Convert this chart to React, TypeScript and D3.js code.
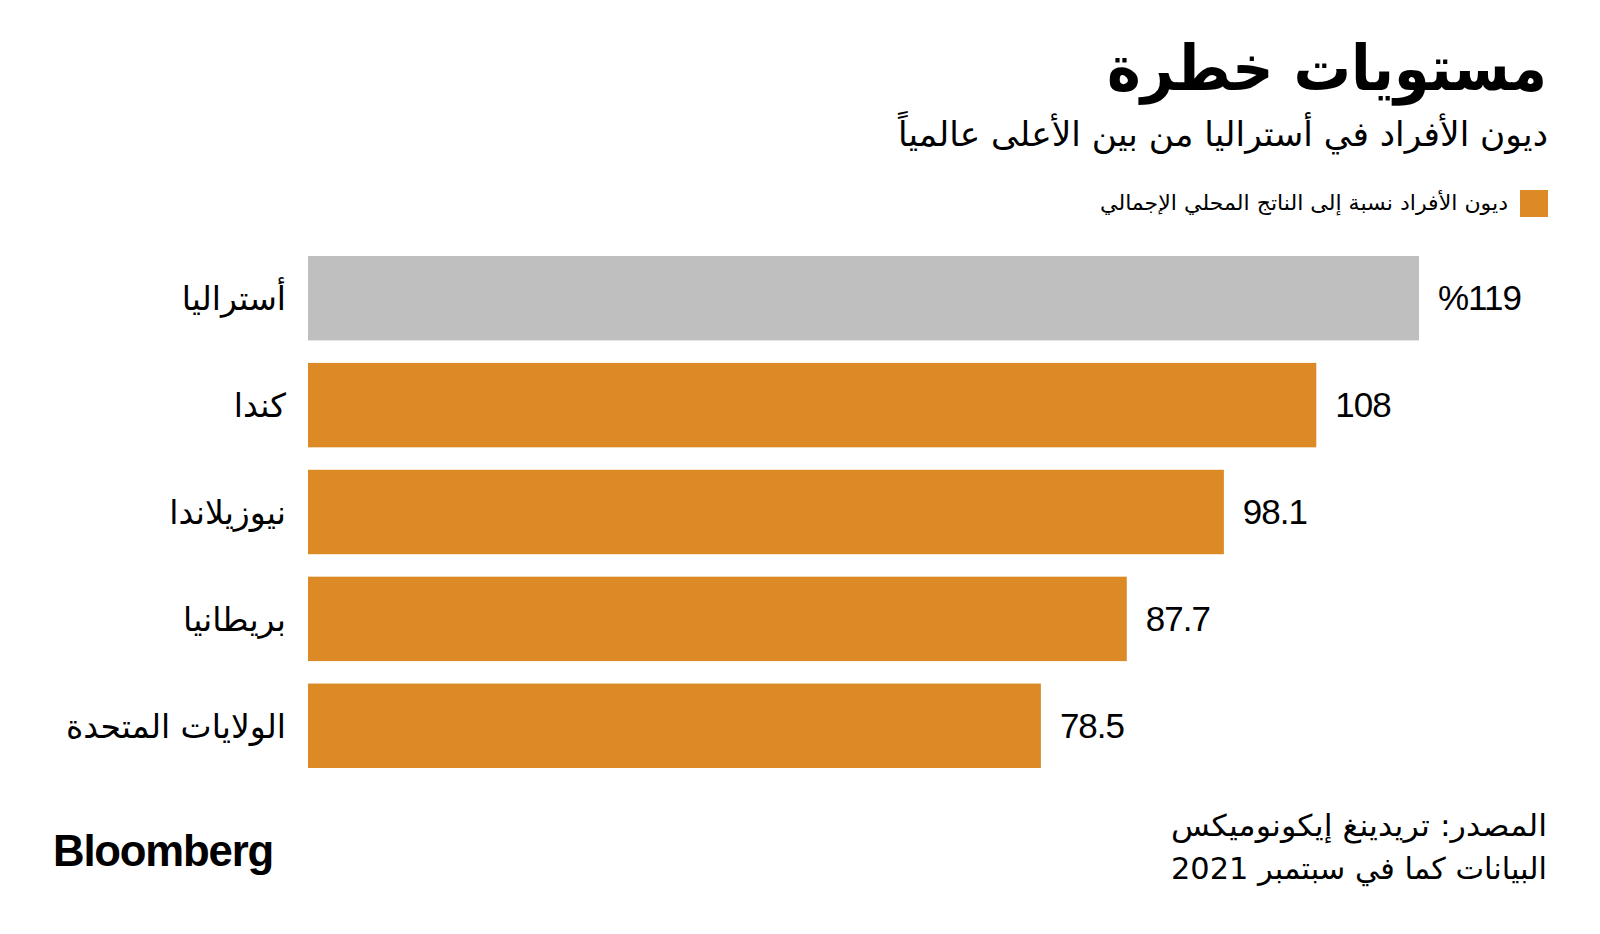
import React from "react";
import * as d3 from "d3";

const categories = ["أستراليا", "كندا", "نيوزيلاندا", "بريطانيا", "الولايات المتحدة"];
const values = [119, 108, 98.1, 87.7, 78.5];
const valueLabels = ["%119", "108", "98.1", "87.7", "78.5"];
const highlight = ["أستراليا"];

const title = "مستويات خطرة";
const subtitle = "ديون الأفراد في أستراليا من بين الأعلى عالمياً";
const legendLabel = "ديون الأفراد نسبة إلى الناتج المحلي الإجمالي";
const sourceLines = ["المصدر: تريدينغ إيكونوميكس", "البيانات كما في سبتمبر 2021"];

const W = 1600;
const H = 934;
const ORANGE = "#DB8A26";
const GREY = "#BFBFBF";
const AR_FONT = "'DejaVu Sans', 'Noto Sans', sans-serif";
const NUM_FONT = "'Liberation Sans', Arial, sans-serif";

export default function App() {
  const x = d3.scaleLinear().domain([0, 119]).range([308, 1419]);
  const y = d3.scaleBand<string>().domain(categories).range([256, 768]).paddingInner(0.21).paddingOuter(0);

  return (
    <div style={{ position: "absolute", left: 0, top: 0 }}>
      <svg width={W} height={H} viewBox={`0 0 ${W} ${H}`} style={{ display: "block", background: "#fff" }}>
        <rect x={0} y={0} width={W} height={H} fill="#fff" />
        <text x={1547} y={90} direction="rtl" textAnchor="start" fontFamily={AR_FONT} fontWeight="bold" fontSize={63} textLength={440} lengthAdjust="spacingAndGlyphs" fill="#000">
          {title}
        </text>
        <text x={1548} y={146} direction="rtl" textAnchor="start" fontFamily={AR_FONT} fontSize={34} textLength={650} lengthAdjust="spacingAndGlyphs" fill="#000">
          {subtitle}
        </text>
        <rect x={1520} y={190} width={28} height={27} fill={ORANGE} />
        <text x={1508} y={210} direction="rtl" textAnchor="start" fontFamily={AR_FONT} fontSize={21} textLength={408} lengthAdjust="spacingAndGlyphs" fill="#000">
          {legendLabel}
        </text>

        {categories.map((c, i) => {
          const y0 = y(c) as number;
          const bw = y.bandwidth();
          return (
            <g key={c}>
              <rect x={x(0)} y={y0} width={x(values[i]) - x(0)} height={bw} fill={highlight.includes(c) ? GREY : ORANGE} />
              <text x={286} y={y0 + bw / 2 + 12} direction="rtl" textAnchor="start" fontFamily={AR_FONT} fontSize={33} fill="#000">
                {c}
              </text>
              <text x={x(values[i]) + 19} y={y0 + bw / 2 + 12} textAnchor="start" fontFamily={NUM_FONT} fontSize={35} letterSpacing={-1} fill="#000">
                {valueLabels[i]}
              </text>
            </g>
          );
        })}

        <text x={53} y={866} fontFamily={NUM_FONT} fontWeight="bold" fontSize={44} letterSpacing={-1.2} textLength={220} lengthAdjust="spacingAndGlyphs" fill="#000">
          Bloomberg
        </text>
        {sourceLines.map((s, i) => (
          <text key={s} x={1547} y={836 + i * 43} direction="rtl" textAnchor="start" fontFamily={AR_FONT} fontSize={30} textLength={376} lengthAdjust="spacingAndGlyphs" fill="#000">
            {s}
          </text>
        ))}
      </svg>
    </div>
  );
}
